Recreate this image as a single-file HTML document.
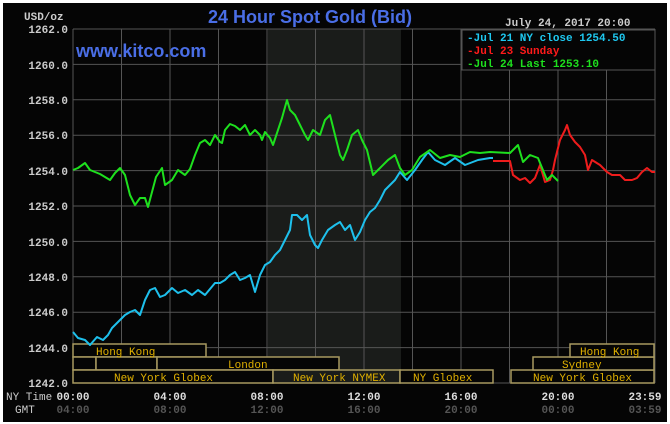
<!DOCTYPE html>
<html><head><style>
body{margin:0;background:#fff;width:670px;height:424px;overflow:hidden}
svg{display:block}
text{font-family:"Liberation Mono",monospace;font-weight:bold}
</style></head><body>
<svg width="670" height="424" viewBox="0 0 670 424">
<rect x="0" y="0" width="670" height="424" fill="#fff"/>
<rect x="3" y="3" width="664" height="419" fill="#050505"/>
<rect x="268" y="29" width="133" height="354" fill="#1a1c1a"/>
<g stroke="#555" stroke-width="1">
<line x1="73" y1="29" x2="655" y2="29"/><line x1="73" y1="64.4" x2="655" y2="64.4"/><line x1="73" y1="99.8" x2="655" y2="99.8"/><line x1="73" y1="135.2" x2="655" y2="135.2"/><line x1="73" y1="170.6" x2="655" y2="170.6"/><line x1="73" y1="206" x2="655" y2="206"/><line x1="73" y1="241.4" x2="655" y2="241.4"/><line x1="73" y1="276.8" x2="655" y2="276.8"/><line x1="73" y1="312.2" x2="655" y2="312.2"/><line x1="73" y1="347.6" x2="655" y2="347.6"/><line x1="73" y1="383" x2="655" y2="383"/>
<line x1="73" y1="29" x2="73" y2="383"/><line x1="121.5" y1="29" x2="121.5" y2="383"/><line x1="170" y1="29" x2="170" y2="383"/><line x1="218.5" y1="29" x2="218.5" y2="383"/><line x1="267" y1="29" x2="267" y2="383"/><line x1="315.5" y1="29" x2="315.5" y2="383"/><line x1="364" y1="29" x2="364" y2="383"/><line x1="412.5" y1="29" x2="412.5" y2="383"/><line x1="461" y1="29" x2="461" y2="383"/><line x1="509.5" y1="29" x2="509.5" y2="383"/><line x1="558" y1="29" x2="558" y2="383"/><line x1="606.5" y1="29" x2="606.5" y2="383"/><line x1="655" y1="29" x2="655" y2="383"/>
</g>
<g fill="#050505" stroke="#a89a60" stroke-width="1.5">
<rect x="73" y="344" width="133" height="13"/>
<rect x="73" y="357" width="23" height="13"/><rect x="96" y="357" width="61" height="13"/><rect x="157" y="357" width="182" height="13"/>
<rect x="73" y="370" width="200" height="13"/><rect x="273" y="370" width="127" height="13" fill="#1a1c1a"/><rect x="400" y="370" width="93" height="13"/><rect x="511" y="370" width="143" height="13"/>
<rect x="533" y="357" width="121" height="13"/><rect x="570" y="344" width="84" height="13"/>
</g>
<g fill="#e0b000" font-size="11" style="font-weight:normal">
<text x="96" y="355" style="font-weight:normal">Hong Kong</text>
<text x="228" y="368" style="font-weight:normal">London</text>
<text x="114" y="381" style="font-weight:normal">New York Globex</text>
<text x="293" y="381" style="font-weight:normal">New York NYMEX</text>
<text x="413" y="381" style="font-weight:normal">NY Globex</text>
<text x="533" y="381" style="font-weight:normal">New York Globex</text>
<text x="562" y="368" style="font-weight:normal">Sydney</text>
<text x="580" y="355" style="font-weight:normal">Hong Kong</text>
</g>
<g fill="#ccc" font-size="11" text-anchor="end">
<text x="68" y="33">1262.0</text><text x="68" y="69">1260.0</text><text x="68" y="104">1258.0</text><text x="68" y="139">1256.0</text><text x="68" y="175">1254.0</text><text x="68" y="210">1252.0</text><text x="68" y="246">1250.0</text><text x="68" y="281">1248.0</text><text x="68" y="316">1246.0</text><text x="68" y="352">1244.0</text><text x="68" y="387">1242.0</text>
</g>
<text x="24" y="20" fill="#ccc" font-size="11">USD/oz</text>
<g font-size="11" text-anchor="middle">
<text x="73" y="400" fill="#ddd">00:00</text><text x="170" y="400" fill="#ddd">04:00</text><text x="267" y="400" fill="#ddd">08:00</text><text x="364" y="400" fill="#ddd">12:00</text><text x="461" y="400" fill="#ddd">16:00</text><text x="558" y="400" fill="#ddd">20:00</text><text x="645" y="400" fill="#ddd">23:59</text>
<text x="73" y="413" fill="#555">04:00</text><text x="170" y="413" fill="#555">08:00</text><text x="267" y="413" fill="#555">12:00</text><text x="364" y="413" fill="#555">16:00</text><text x="461" y="413" fill="#555">20:00</text><text x="558" y="413" fill="#555">00:00</text><text x="645" y="413" fill="#555">03:59</text>
</g>
<text x="6" y="400" fill="#ccc" font-size="11" style="font-weight:normal">NY Time</text>
<text x="15" y="413" fill="#ccc" font-size="11" style="font-weight:normal">GMT</text>
<text x="310" y="23" fill="#4a6ee6" font-size="18" text-anchor="middle" style="font-family:'Liberation Sans',sans-serif;font-weight:bold">24 Hour Spot Gold (Bid)</text>
<text x="76" y="57" fill="#4a6ee6" font-size="18" style="font-family:'Liberation Sans',sans-serif;font-weight:bold">www.kitco.com</text>
<text x="505" y="26" fill="#ccc" font-size="11">July 24, 2017 20:00</text>
<rect x="462" y="30" width="193" height="40" fill="#050505" stroke="#555"/>
<text x="467" y="41" fill="#1ec8f0" font-size="11">-Jul 21 NY close 1254.50</text>
<text x="467" y="54" fill="#ff1a1a" font-size="11">-Jul 23 Sunday</text>
<text x="467" y="67" fill="#1ee01e" font-size="11">-Jul 24 Last 1253.10</text>
<g fill="none" stroke-width="2" stroke-linejoin="round">
<polyline stroke="#ee1c1c" points="493,161 510,161 513,175 520,180 525,178 530,183 535,178 540,165 545,182 550,180 553,170 555,160 560,140 565,130 567,125 570,135 575,142 580,147 585,155 588,170 592,160 600,165 607,172 612,175 620,175 625,180 632,180 637,178 642,172 647,168 652,172 655,172"/>
<polyline stroke="#1ec0ec" points="73,332 78,338 85,340 90,345 97,337 103,340 108,335 112,328 118,322 125,315 130,312 135,310 140,315 145,300 150,290 155,288 160,297 165,295 172,288 178,293 185,290 192,295 198,290 205,295 210,289 215,283 220,283 225,280 230,275 235,272 240,280 245,278 250,275 255,292 260,275 265,265 270,262 275,255 280,250 285,240 290,230 292,215 297,215 302,220 307,215 310,235 315,245 318,248 322,240 328,230 335,225 340,222 345,230 350,225 355,240 360,232 365,220 370,212 375,208 380,200 385,190 395,180 400,172 407,180 415,170 422,160 428,152 435,160 445,165 455,158 465,165 478,160 490,158 493,158"/>
<polyline stroke="#1ee01e" points="73,170 78,168 85,163 90,170 100,174 110,180 115,173 120,168 125,175 130,195 135,205 140,198 145,198 148,207 152,192 156,177 162,168 165,185 172,180 178,170 185,175 190,169 195,155 200,143 205,140 210,145 215,135 220,142 222,143 225,130 230,124 235,126 240,130 245,125 250,135 255,130 260,135 262,140 265,132 270,138 273,145 278,130 282,118 287,100 290,110 295,115 300,125 305,135 308,140 313,130 320,135 325,120 330,115 335,135 340,155 343,160 347,150 352,135 358,130 362,140 367,150 373,175 380,168 388,160 395,155 400,168 405,175 412,170 420,157 430,150 440,158 450,155 460,157 470,152 480,153 490,152 510,153 515,148 518,145 523,162 530,155 538,158 547,180 552,175 558,181"/>
</g>
</svg>
</body></html>
